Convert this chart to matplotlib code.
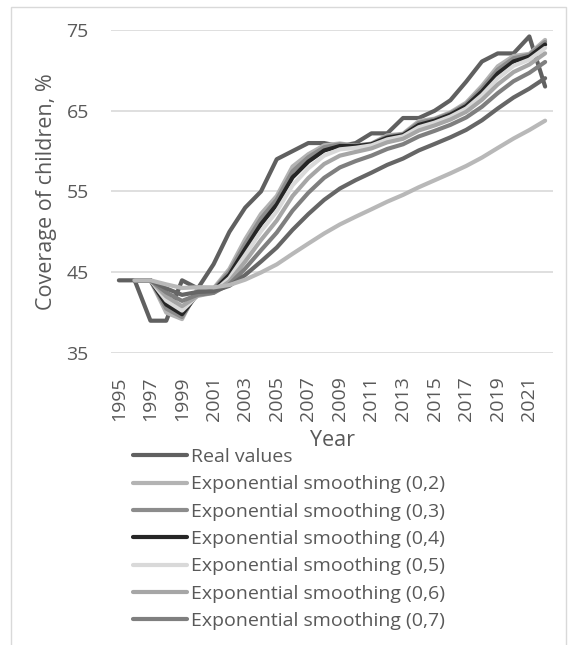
import matplotlib
matplotlib.use("Agg")
import matplotlib.pyplot as plt
from matplotlib.patches import Rectangle

plt.rcParams['font.family'] = ['Open Sans', 'DejaVu Sans']

years = list(range(1995, 2023))

# real coverage values, 1995-2022
real = [44, 44, 39, 39, 44, 43, 46, 50, 53, 55, 59, 60, 61, 61, 60.6, 61,
        62.2, 62.2, 64.1, 64.1, 65, 66.3, 68.6, 71.1, 72.1, 72.1, 74.2, 68]

# smoothed series start in 1996
smooth_years = years[1:]
es_02 = [44, 44, 40.0, 39.2, 43.04, 43.01, 45.4, 49.08, 52.22, 54.44, 58.09, 59.62, 60.72,
         60.95, 60.67, 60.93, 61.95, 62.15, 63.71, 64.02, 64.8, 66.0, 68.08, 70.5, 71.78, 72.04, 73.77]
es_03 = [44, 44, 40.5, 39.45, 42.64, 42.89, 45.07, 48.52, 51.66, 54.0, 57.5, 59.25, 60.48,
         60.84, 60.67, 60.9, 61.81, 62.08, 63.5, 63.92, 64.68, 65.81, 67.76, 70.1, 71.5, 71.92, 73.52]
es_04 = [44, 44, 41.0, 39.8, 42.32, 42.73, 44.69, 47.88, 50.95, 53.38, 56.75, 58.7, 60.08,
         60.63, 60.61, 60.85, 61.66, 61.98, 63.25, 63.76, 64.51, 65.58, 67.39, 69.62, 71.11, 71.7, 73.2]
es_05 = [44, 44, 41.5, 40.25, 42.13, 42.56, 44.28, 47.14, 50.07, 52.54, 55.77, 57.88, 59.44,
         60.22, 60.41, 60.71, 61.45, 61.83, 62.96, 63.53, 64.27, 65.28, 66.94, 69.02, 70.56, 71.33, 72.77]
es_06 = [44, 44, 42.0, 40.8, 42.08, 42.45, 43.87, 46.32, 48.99, 51.4, 54.44, 56.66, 58.4,
         59.44, 59.9, 60.34, 61.09, 61.53, 62.56, 63.18, 63.91, 64.87, 66.36, 68.26, 69.79, 70.72, 72.11]
es_07 = [44, 44, 42.5, 41.45, 42.22, 42.45, 43.51, 45.46, 47.72, 49.91, 52.63, 54.84, 56.69,
         57.98, 58.77, 59.44, 60.27, 60.85, 61.82, 62.51, 63.25, 64.17, 65.5, 67.18, 68.66, 69.69, 71.04]
es_08 = [44, 44, 43.0, 42.2, 42.56, 42.65, 43.32, 44.66, 46.32, 48.06, 50.25, 52.2, 53.96,
         55.37, 56.41, 57.33, 58.3, 59.08, 60.09, 60.89, 61.71, 62.63, 63.82, 65.28, 66.64, 67.74, 69.03]
es_09 = [44, 44, 43.5, 43.05, 43.15, 43.13, 43.42, 44.08, 44.97, 45.97, 47.28, 48.55, 49.8,
         50.92, 51.88, 52.8, 53.74, 54.58, 55.53, 56.39, 57.25, 58.16, 59.2, 60.39, 61.56, 62.61, 63.77]

labels = ['Real values'] + ['Exponential smoothing (0,%d)' % k for k in range(2, 10)]
colors = ['#606060', '#b3b3b3', '#8c8c8c', '#262626', '#d9d9d9', '#a6a6a6', '#7f7f7f',
          '#666666', '#b8b8b8']
series = [es_02, es_03, es_04, es_05, es_06, es_07, es_08, es_09]

text_color = '#595959'

fig = plt.figure(figsize=(5.77, 6.45), dpi=100)
ax = fig.add_axes([111 / 577, 1 - 353 / 645, 442 / 577, 323 / 645])

lines = []
l, = ax.plot(years, real, color=colors[0], lw=3, solid_capstyle='round', solid_joinstyle='round')
lines.append(l)
for s, c in zip(series, colors[1:]):
    l, = ax.plot(smooth_years, s, color=c, lw=3, solid_capstyle='round', solid_joinstyle='round')
    lines.append(l)

ax.set_xlim(1994.5, 2022.5)
ax.set_ylim(35, 75)
ax.set_yticks([35, 45, 55, 65, 75])
ax.set_xticks(years[::2])
ax.set_xticklabels([str(y) for y in years[::2]], rotation=90)
ax.tick_params(axis='both', length=0, labelsize=14, labelcolor=text_color)
ax.tick_params(axis='y', pad=16)
ax.tick_params(axis='x', pad=17)
ax.grid(axis='y', color='#d9d9d9', lw=1.2)
ax.set_axisbelow(True)
for sp in ax.spines.values():
    sp.set_visible(False)

ax.set_ylabel('Coverage of children, %', fontsize=15.5, color=text_color, labelpad=7)
fig.text(332 / 577, 1 - 440 / 645, 'Year', fontsize=15.5, color=text_color,
         ha='center', va='center')

# only the first seven entries fit in the legend box
fig.legend(lines[:7], labels[:7], loc='upper left', bbox_to_anchor=(133 / 577, 1 - 448 / 645),
           frameon=False, fontsize=14, labelcolor=text_color, handlelength=2.8,
           handletextpad=0.2, labelspacing=0.48, borderpad=0, borderaxespad=0)

fig.patches.append(Rectangle((11 / 577, -0.01), 555 / 577, 1 - 7 / 645 + 0.01,
                             transform=fig.transFigure, fill=False, ec='#d9d9d9', lw=1))

fig.savefig('out.png', dpi=100)
